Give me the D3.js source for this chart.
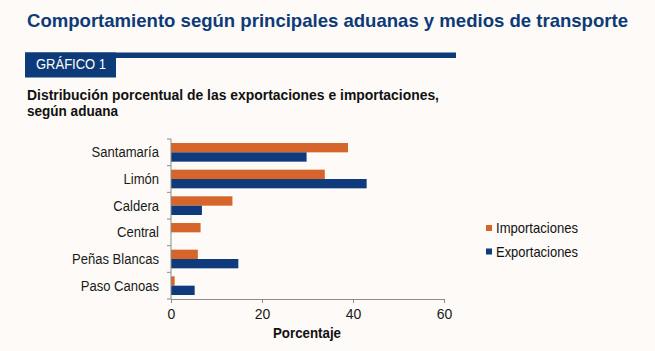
<!DOCTYPE html>
<html>
<head>
<meta charset="utf-8">
<script src="https://cdn.jsdelivr.net/npm/d3@7/dist/d3.min.js"></script>
<style>
  html, body { margin: 0; padding: 0; background: #fdfaf7; }
  svg { display: block; font-family: "Liberation Sans", Arial, sans-serif; }
  .axis path, .axis line { stroke: #8c8c8c; }
  .axis text { fill: #1a1a1a; }
</style>
</head>
<body>
<svg id="chart" width="655" height="351"></svg>
<script>
// data
const aduanas = ["Santamaría", "Limón", "Caldera", "Central", "Peñas Blancas", "Paso Canoas"];
const importaciones = [38.9, 33.8, 13.5, 6.5, 5.9, 0.8];
const exportaciones = [29.8, 43.0, 6.8, 0, 14.8, 5.2];
const seriesNames = ["Importaciones", "Exportaciones"];
const seriesColors = ["#d5652a", "#0f3b7d"];
const xTicks = [0, 20, 40, 60];

const svg = d3.select("#chart");
const navy = "#0d3a78";

// heading block (the original font is a bit condensed, hence textLength)
svg.append("text").attr("x", 27).attr("y", 27)
  .attr("font-size", 19).attr("font-weight", "bold").attr("fill", navy)
  .attr("textLength", 601).attr("lengthAdjust", "spacingAndGlyphs")
  .text("Comportamiento según principales aduanas y medios de transporte");

svg.append("rect").attr("x", 25).attr("y", 52.5).attr("width", 431).attr("height", 5.5).attr("fill", navy);
svg.append("rect").attr("x", 25).attr("y", 52.5).attr("width", 91).attr("height", 25).attr("fill", navy);
svg.append("text").attr("x", 36).attr("y", 69)
  .attr("font-size", 14).attr("fill", "#fff")
  .attr("textLength", 70).attr("lengthAdjust", "spacingAndGlyphs")
  .text("GRÁFICO 1");

const sub = svg.append("text").attr("font-size", 14.5).attr("font-weight", "bold").attr("fill", "#111");
sub.append("tspan").attr("x", 27).attr("y", 99.5)
  .attr("textLength", 412).attr("lengthAdjust", "spacingAndGlyphs")
  .text("Distribución porcentual de las exportaciones e importaciones,");
sub.append("tspan").attr("x", 27).attr("y", 116)
  .attr("textLength", 91).attr("lengthAdjust", "spacingAndGlyphs")
  .text("según aduana");

// chart area
const plotL = 171, plotR = 444, plotT = 139, plotB = 299;
const g = svg.append("g");

const x = d3.scaleLinear().domain([0, 60]).range([plotL, plotR]);
const y = d3.scaleBand().domain(aduanas).range([plotT, plotB]).paddingInner(0.3).paddingOuter(0.15);
const ySub = d3.scaleBand().domain(seriesNames).range([0, y.bandwidth()]);

const rows = aduanas.map((a, i) => ({ a, vals: [importaciones[i], exportaciones[i]] }));

const groups = g.selectAll(".row").data(rows).join("g")
  .attr("transform", d => `translate(0,${y(d.a)})`);
groups.selectAll("rect").data(d => d.vals.map((v, k) => ({ v, k }))).join("rect")
  .attr("x", x(0))
  .attr("y", d => ySub(seriesNames[d.k]))
  .attr("width", d => x(d.v) - x(0))
  .attr("height", ySub.bandwidth())
  .attr("fill", d => seriesColors[d.k]);

// axes
const xAxis = g.append("g").attr("class", "axis").attr("transform", `translate(0,${plotB})`)
  .call(d3.axisBottom(x).tickValues(xTicks).tickSize(4).tickSizeOuter(0).tickPadding(6));
xAxis.selectAll("text").attr("font-size", 14);

// y axis: line with ticks at band boundaries
const yAxisG = g.append("g").attr("class", "axis");
yAxisG.append("line").attr("x1", plotL).attr("x2", plotL).attr("y1", plotT).attr("y2", plotB);
const step = (plotB - plotT) / aduanas.length;
yAxisG.selectAll(".tk").data(d3.range(aduanas.length + 1)).join("line")
  .attr("x1", plotL - 4).attr("x2", plotL)
  .attr("y1", i => plotT + i * step).attr("y2", i => plotT + i * step);
yAxisG.selectAll(".lbl").data(aduanas).join("text")
  .attr("transform", d => `translate(${plotL - 12},${plotT + aduanas.indexOf(d) * step + step / 2}) scale(0.9,1)`)
  .attr("dy", "0.35em").attr("text-anchor", "end").attr("font-size", 14.5)
  .text(d => d);

svg.append("text").attr("x", 307).attr("y", 338).attr("text-anchor", "middle")
  .attr("font-size", 14).attr("font-weight", "bold").attr("fill", "#111")
  .attr("textLength", 68).attr("lengthAdjust", "spacingAndGlyphs")
  .text("Porcentaje");

// legend
const legend = svg.append("g").attr("transform", "translate(486,228)");
seriesNames.forEach((s, i) => {
  const row = legend.append("g").attr("transform", `translate(0,${i * 23.5})`);
  row.append("rect").attr("x", 0).attr("y", -3).attr("width", 6).attr("height", 6).attr("fill", seriesColors[i]);
  row.append("text").attr("x", 10).attr("y", 0).attr("dy", "0.35em")
    .attr("font-size", 14.5).attr("fill", "#111")
    .attr("textLength", 82).attr("lengthAdjust", "spacingAndGlyphs").text(s);
});
</script>
</body>
</html>
